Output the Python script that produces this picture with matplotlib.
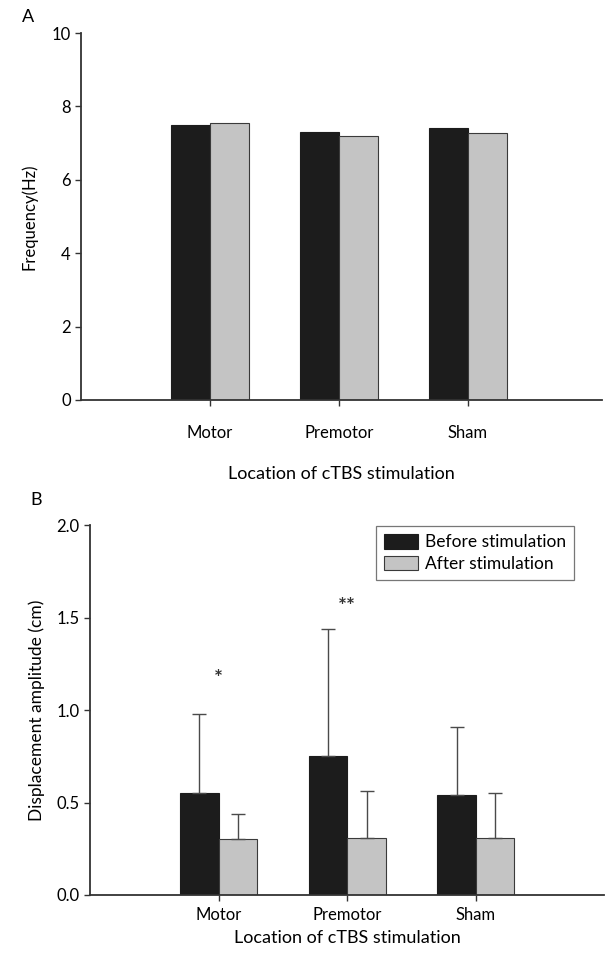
import numpy as np
import matplotlib.pyplot as plt

plt.rcParams['font.family'] = ['Lato', 'DejaVu Sans']

# data
locations = ['Motor', 'Premotor', 'Sham']
freq_before = [7.49, 7.29, 7.42]
freq_after = [7.54, 7.19, 7.27]
amp_before = [0.55, 0.75, 0.54]
amp_after = [0.30, 0.31, 0.31]
amp_before_err = [0.43, 0.69, 0.37]
amp_after_err = [0.14, 0.25, 0.24]
sig_marks = ['*', '**', '']
sig_heights = [1.17, 1.56, 0]

black = '#1c1c1c'
grey = '#c4c4c4'
edge = '#3a3a3a'
w = 0.3
x = np.arange(1, len(locations) + 1)

fig = plt.figure(figsize=(6.05, 9.58), dpi=100)

# Panel A - frequency
ax1 = fig.add_axes([0.134, 0.5825, 0.861, 0.383])
ax1.bar(x - w / 2, freq_before, w, color=black, edgecolor=black, linewidth=0.8)
ax1.bar(x + w / 2, freq_after, w, color=grey, edgecolor=edge, linewidth=0.8)
ax1.set_xlim(0, 4.04)
ax1.set_ylim(0, 10)
ax1.set_yticks([0, 2, 4, 6, 8, 10])
ax1.set_xticks(x)
ax1.set_xticklabels(locations)
ax1.tick_params(axis='x', pad=14)
ax1.set_ylabel('Frequency(Hz)', fontsize=12, labelpad=10)
ax1.set_xlabel('Location of cTBS stimulation', fontsize=13, labelpad=18)
fig.text(0.036, 0.982, 'A', fontsize=13, va='center')

# Panel B - displacement amplitude
ax2 = fig.add_axes([0.149, 0.0658, 0.85, 0.386])
zeros = [0, 0, 0]
ax2.bar(x - w / 2, amp_before, w, color=black, edgecolor=black, linewidth=0.8,
        label='Before stimulation')
ax2.bar(x + w / 2, amp_after, w, color=grey, edgecolor=edge, linewidth=0.8,
        label='After stimulation')
ax2.errorbar(x - w / 2, amp_before, yerr=[zeros, amp_before_err], fmt='none',
             ecolor='#4a4a4a', elinewidth=1.0, capsize=5, capthick=1.0)
ax2.errorbar(x + w / 2, amp_after, yerr=[zeros, amp_after_err], fmt='none',
             ecolor='#4a4a4a', elinewidth=1.0, capsize=5, capthick=1.0)
for xi, mark, h in zip(x, sig_marks, sig_heights):
    if mark:
        ax2.text(xi, h, mark, ha='center', va='center', fontsize=15,
                 fontweight='bold', color='#333333')
ax2.set_xlim(0, 4.0)
ax2.set_ylim(0, 2.0)
ax2.set_yticks([0.0, 0.5, 1.0, 1.5, 2.0])
ax2.set_yticklabels(['0.0', '0.5', '1.0', '1.5', '2.0'])
ax2.set_xticks(x)
ax2.set_xticklabels(locations)
ax2.tick_params(axis='x', pad=5)
ax2.set_ylabel('Displacement amplitude (cm)', fontsize=12.5, labelpad=8)
ax2.set_xlabel('Location of cTBS stimulation', fontsize=13, labelpad=5)
leg = ax2.legend(loc='upper right', bbox_to_anchor=(0.958, 1.02), fontsize=12.5,
                 frameon=True, fancybox=False, handlelength=2.0, handleheight=0.9,
                 borderpad=0.45, labelspacing=0.3, handletextpad=0.4)
leg.get_frame().set_edgecolor('#555555')
leg.get_frame().set_linewidth(0.9)
fig.text(0.05, 0.478, 'B', fontsize=13, va='center')

for ax in (ax1, ax2):
    ax.spines['top'].set_visible(False)
    ax.spines['right'].set_visible(False)
    ax.spines['left'].set_linewidth(1.3)
    ax.spines['bottom'].set_linewidth(1.3)
    ax.spines['left'].set_color('#333333')
    ax.spines['bottom'].set_color('#333333')
    ax.tick_params(axis='both', labelsize=12, length=4, width=1, color='#333333')

fig.savefig('out.png', dpi=100)
